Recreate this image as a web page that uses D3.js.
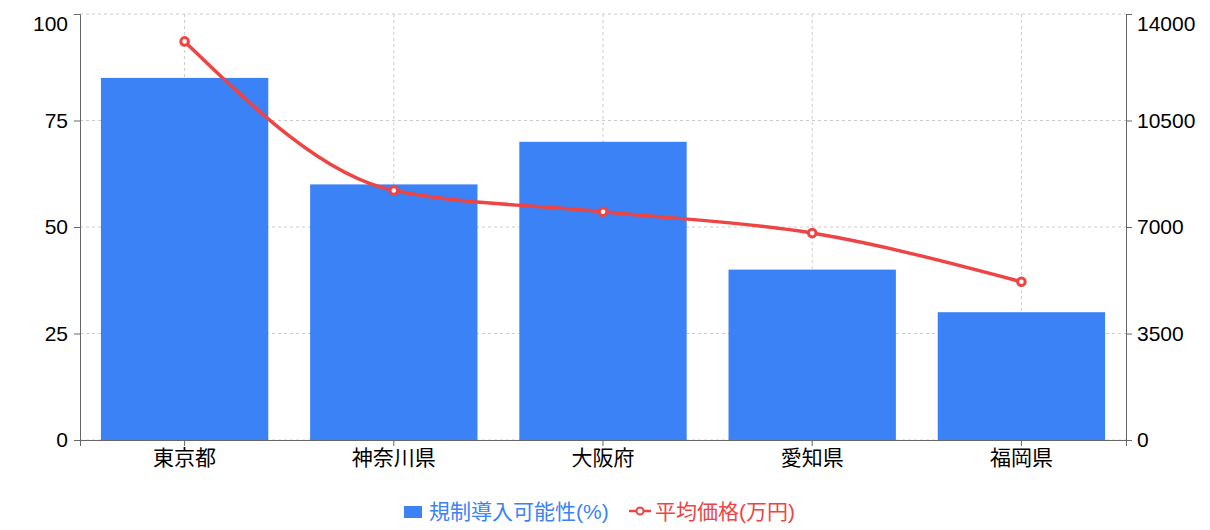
<!DOCTYPE html>
<html>
<head>
<meta charset="utf-8">
<script src="https://cdn.jsdelivr.net/npm/d3@7"></script>
<style>
  body { margin: 0; background: #fff; }
  text { font-family: "Liberation Sans", "Noto Sans CJK JP", sans-serif; }
</style>
</head>
<body>
<div id="chart"></div>
<script>
const prefectures = ['東京都', '神奈川県', '大阪府', '愛知県', '福岡県']
const possibility = [85, 60, 70, 40, 30]
const avgPrice = [13100, 8200, 7500, 6800, 5200]
const leftTicks = [0, 25, 50, 75, 100]
const rightTicks = [0, 3500, 7000, 10500, 14000]

const W = 1210
const H = 530
const margin = {top: 14, right: 84, bottom: 90, left: 80}
const width = W - margin.left - margin.right
const height = H - margin.top - margin.bottom

const blue = '#3b82f6'
const red = '#ef4444'
const axisColor = '#666'
const fontSize = '21px'

const svg = d3.select('#chart')
  .append('svg')
  .attr('width', W)
  .attr('height', H)

const g = svg.append('g')
  .attr('transform', `translate(${margin.left},${margin.top})`)

// category band, centers used for bars, grid and line
const xc = d3.scaleBand().domain(prefectures).range([0, width])
const cx = d => xc(d) + xc.bandwidth() / 2

const yL = d3.scaleLinear().domain([0, 100]).range([height, 0])
const yR = d3.scaleLinear().domain([0, 14000]).range([height, 0])

// grid
g.append('g').selectAll('line')
  .data(leftTicks)
  .join('line')
  .attr('x1', 0).attr('x2', width)
  .attr('y1', d => yL(d)).attr('y2', d => yL(d))
  .attr('stroke', '#ccc')
  .attr('stroke-dasharray', '3 3')
g.append('g').selectAll('line')
  .data(prefectures)
  .join('line')
  .attr('x1', d => cx(d)).attr('x2', d => cx(d))
  .attr('y1', 0).attr('y2', height)
  .attr('stroke', '#ccc')
  .attr('stroke-dasharray', '3 3')

// bars
const barW = xc.bandwidth() * 0.8
g.append('g').selectAll('rect')
  .data(prefectures)
  .join('rect')
  .attr('x', d => cx(d) - barW / 2)
  .attr('width', barW)
  .attr('y', (d, i) => yL(possibility[i]))
  .attr('height', (d, i) => height - yL(possibility[i]))
  .attr('fill', blue)

// axes
const styleAxis = sel => {
  sel.attr('font-family', null).attr('font-size', null)
  sel.selectAll('.domain').attr('stroke', axisColor)
  sel.selectAll('.tick line').attr('stroke', axisColor)
  sel.selectAll('.tick text')
    .attr('fill', '#000')
    .style('font-size', fontSize)
}

const xAxis = g.append('g')
  .attr('transform', `translate(0,${height})`)
  .call(d3.axisBottom(xc).tickSizeOuter(0).tickSize(6).tickPadding(4))
styleAxis(xAxis)

const leftAxis = g.append('g')
  .call(d3.axisLeft(yL).tickValues(leftTicks).tickSizeOuter(0).tickSize(6).tickPadding(6))
styleAxis(leftAxis)

const rightAxis = g.append('g')
  .attr('transform', `translate(${width},0)`)
  .call(d3.axisRight(yR).tickValues(rightTicks).tickFormat(d3.format('d')).tickSizeOuter(0).tickSize(6).tickPadding(5))
styleAxis(rightAxis)

// top labels sit a bit lower, as in the reference
leftAxis.selectAll('.tick text').filter(d => d === 100).attr('y', 10)
rightAxis.selectAll('.tick text').filter(d => d === 14000).attr('y', 10)

// line
const line = d3.line()
  .x(d => cx(d[0]))
  .y(d => yR(d[1]))
  .curve(d3.curveMonotoneX)
const pts = prefectures.map((p, i) => [p, avgPrice[i]])
g.append('path')
  .datum(pts)
  .attr('d', line)
  .attr('fill', 'none')
  .attr('stroke', red)
  .attr('stroke-width', 3.5)
g.append('g').selectAll('circle')
  .data(pts)
  .join('circle')
  .attr('cx', d => cx(d[0]))
  .attr('cy', d => yR(d[1]))
  .attr('r', 3.8)
  .attr('fill', '#fff')
  .attr('stroke', red)
  .attr('stroke-width', 3)

// legend
const legend = svg.append('g').attr('transform', 'translate(0,512)')
legend.append('rect')
  .attr('x', 404).attr('y', -6).attr('width', 18).attr('height', 12)
  .attr('fill', blue)
legend.append('text')
  .attr('x', 429).attr('y', 0).attr('dy', '0.35em')
  .attr('fill', blue)
  .style('font-size', fontSize)
  .text('規制導入可能性(%)')
legend.append('line')
  .attr('x1', 629).attr('x2', 651).attr('y1', -1).attr('y2', -1)
  .attr('stroke', red).attr('stroke-width', 2.5)
legend.append('circle')
  .attr('cx', 640).attr('cy', -1).attr('r', 3.5)
  .attr('fill', '#fff').attr('stroke', red).attr('stroke-width', 2)
legend.append('text')
  .attr('x', 655).attr('y', 0).attr('dy', '0.35em')
  .attr('fill', red)
  .style('font-size', fontSize)
  .text('平均価格(万円)')
</script>
</body>
</html>
